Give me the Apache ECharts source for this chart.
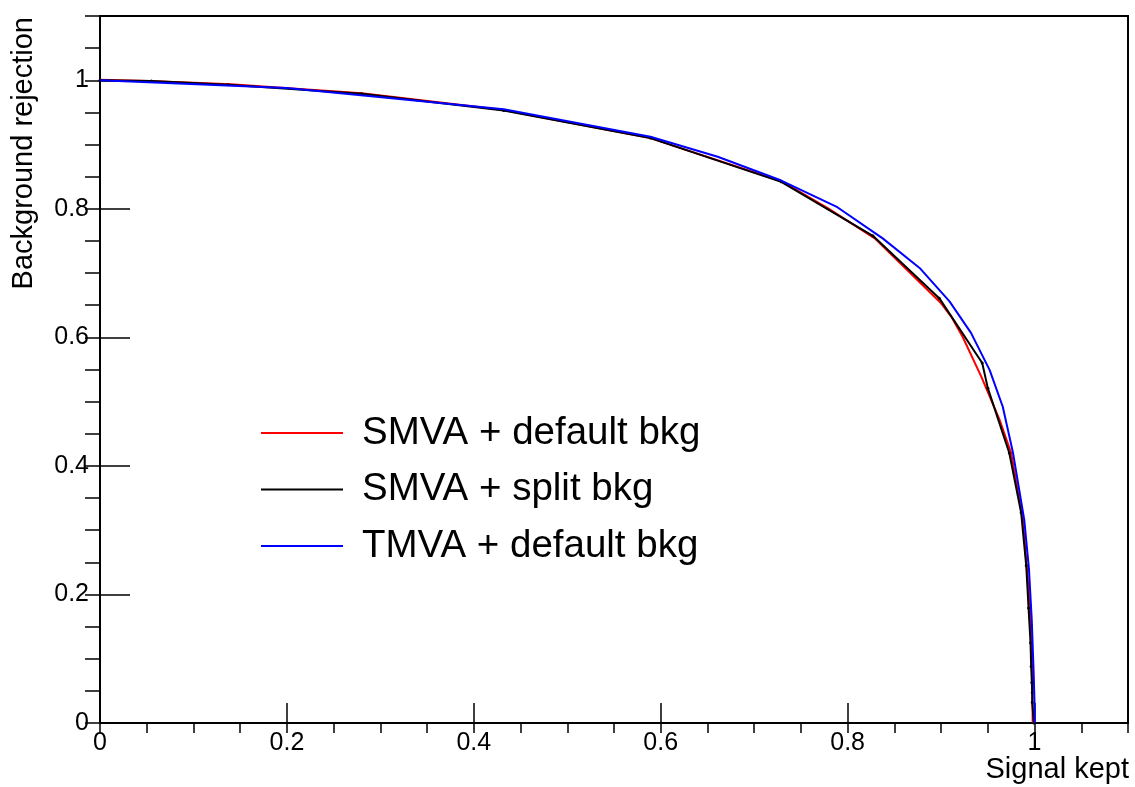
<!DOCTYPE html>
<html>
<head>
<meta charset="utf-8">
<script src="https://cdn.jsdelivr.net/npm/echarts@6/dist/echarts.min.js"></script>
<style>
  html, body { margin: 0; padding: 0; background: #fff; }
  #chart { width: 1135px; height: 787px; }
</style>
</head>
<body>
<div id="chart"></div>
<script>
// ROC curves: signal efficiency (x) vs background rejection (y)
const seriesNames = ['SMVA + default bkg', 'SMVA + split bkg', 'TMVA + default bkg'];

const smvaDefaultX = [0, 0.052, 0.14, 0.28, 0.43, 0.589, 0.729, 0.78, 0.829, 0.9, 0.911, 0.923, 0.943, 0.9625, 0.975, 0.9875, 0.993, 0.9957, 0.9975, 0.998];
const smvaDefaultY = [1.001, 0.999, 0.994, 0.98, 0.954, 0.910, 0.843, 0.80, 0.754, 0.653, 0.632, 0.601, 0.539, 0.472, 0.42, 0.316, 0.22, 0.161, 0.08, 0];

const smvaSplitX = [0, 0.055, 0.137, 0.28, 0.432, 0.589, 0.729, 0.827, 0.898, 0.944, 0.950, 0.973, 0.9857, 0.9911, 0.9936, 0.9957, 0.9964, 0.9971, 0.9975, 0.9975, 0.9993];
const smvaSplitY = [1.0, 0.999, 0.993, 0.979, 0.953, 0.910, 0.842, 0.758, 0.661, 0.560, 0.521, 0.420, 0.327, 0.245, 0.179, 0.125, 0.088, 0.063, 0.047, 0.032, 0];

const tmvaDefaultX = [0, 0.2, 0.432, 0.589, 0.661, 0.729, 0.789, 0.8375, 0.877, 0.909, 0.932, 0.952, 0.966, 0.977, 0.989, 0.994, 0.997, 0.999, 1.0, 1.0];
const tmvaDefaultY = [1.0, 0.988, 0.955, 0.912, 0.881, 0.844, 0.8025, 0.754, 0.708, 0.656, 0.607, 0.549, 0.492, 0.42, 0.316, 0.24, 0.161, 0.08, 0.03, 0];

const zip = (xs, ys) => xs.map((x, i) => [x, ys[i]]);
const FONT = '"Liberation Sans", Arial, sans-serif';

const chart = echarts.init(document.getElementById('chart'), null, { renderer: 'canvas' });

// Labels at 0, 0.2, ..., 1; the extra tick at the axis end (1.1) stays unlabelled
const tickFmt = v => {
  if (v > 1.05) return '';
  if (Math.abs(v - 1) < 1e-9) return '1';
  if (Math.abs(v) < 1e-9) return '0';
  return String(+v.toFixed(1));
};

chart.setOption({
  animation: false,
  backgroundColor: '#fff',
  grid: { left: 100, right: 7, top: 16, bottom: 64, show: true, borderColor: '#000', borderWidth: 2, backgroundColor: '#fff' },
  xAxis: [
    {
      type: 'value', min: 0, max: 1.1, interval: 0.2,
      axisLine: { show: true, onZero: false, lineStyle: { color: '#000', width: 2 } },
      axisTick: { show: true, inside: true, length: 20, lineStyle: { color: '#000', width: 1.5 } },
      axisLabel: { show: true, margin: 8, color: '#000', fontFamily: FONT, fontSize: 25, formatter: tickFmt, showMaxLabel: false },
      splitLine: { show: false }
    },
    {
      type: 'value', min: 0, max: 1.1, interval: 0.05,
      axisLine: { show: false },
      axisTick: { show: true, inside: true, length: 10, lineStyle: { color: '#000', width: 1.5 } },
      axisLabel: { show: false },
      splitLine: { show: false }
    }
  ],
  yAxis: [
    {
      type: 'value', min: 0, max: 1.1, interval: 0.2,
      axisLine: { show: true, onZero: false, lineStyle: { color: '#000', width: 2 } },
      axisTick: { show: true, inside: true, length: 30, lineStyle: { color: '#000', width: 1.5 } },
      axisLabel: { show: true, margin: 11, color: '#000', fontFamily: FONT, fontSize: 25, formatter: tickFmt, showMaxLabel: false },
      splitLine: { show: false }
    },
    {
      type: 'value', min: 0, max: 1.1, interval: 0.05,
      axisLine: { show: false },
      axisTick: { show: true, inside: true, length: 15, lineStyle: { color: '#000', width: 1.5 } },
      axisLabel: { show: false },
      splitLine: { show: false }
    }
  ],
  legend: {
    orient: 'vertical',
    left: 261, top: 411,
    padding: 0,
    itemWidth: 82, itemHeight: 2, itemGap: 12.5,
    icon: 'rect',
    data: seriesNames,
    textStyle: { fontFamily: FONT, fontSize: 38.5, color: '#000', lineHeight: 44, padding: [0, 0, 0, 14] }
  },
  series: [
    {
      name: seriesNames[0], type: 'line', data: zip(smvaDefaultX, smvaDefaultY),
      showSymbol: false, symbol: 'none', color: '#ff0000',
      lineStyle: { color: '#ff0000', width: 2 }, z: 2
    },
    {
      name: seriesNames[1], type: 'line', data: zip(smvaSplitX, smvaSplitY),
      showSymbol: true, symbol: 'circle', symbolSize: 3, color: '#000000',
      itemStyle: { color: '#000' },
      lineStyle: { color: '#000', width: 2 }, z: 3
    },
    {
      name: seriesNames[2], type: 'line', data: zip(tmvaDefaultX, tmvaDefaultY),
      showSymbol: false, symbol: 'none', color: '#0000ff',
      lineStyle: { color: '#0000ff', width: 2 }, z: 4
    }
  ],
  graphic: [
    {
      type: 'text', x: 1129, y: 770,
      style: { text: 'Signal kept', fontFamily: FONT, fontSize: 29, fill: '#000', align: 'right', verticalAlign: 'middle' }
    },
    {
      type: 'text', x: 24, y: 17, rotation: Math.PI / 2,
      style: { text: 'Background rejection', fontFamily: FONT, fontSize: 29, fill: '#000', align: 'right', verticalAlign: 'middle' }
    }
  ]
});
</script>
</body>
</html>
